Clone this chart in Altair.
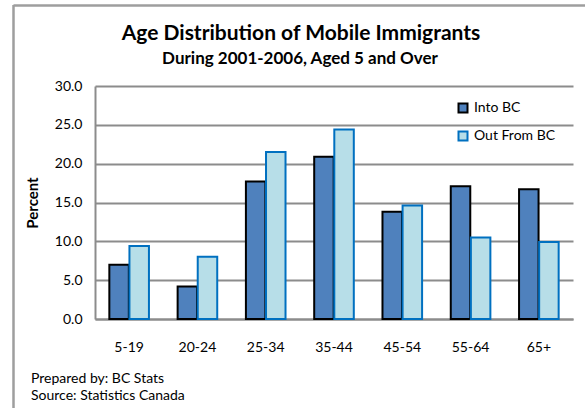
import altair as alt
import pandas as pd

ages = ["5-19", "20-24", "25-34", "35-44", "45-54", "55-64", "65+"]
into_bc = [7.0, 4.2, 17.7, 20.9, 13.8, 17.1, 16.7]
out_from_bc = [9.4, 8.0, 21.5, 24.4, 14.6, 10.5, 9.9]
series = ["Into BC", "Out From BC"]
y_ticks = [0, 5, 10, 15, 20, 25, 30]

title = "Age Distribution of Mobile Immigrants"
subtitle = "During 2001-2006, Aged 5 and Over"
y_title = "Percent"
footer1 = "Prepared by: BC Stats"
footer2 = "Source: Statistics Canada"

rows = []
for a, v1, v2 in zip(ages, into_bc, out_from_bc):
    rows.append({"age": a, "series": series[0], "value": v1})
    rows.append({"age": a, "series": series[1], "value": v2})
df = pd.DataFrame(rows)

FONT = "Lato"
GRID = "#8c8c8c"
FRAME = "#9e9e9e"

W, H = 478, 233
PL, PT = 95, 86

leg = alt.Legend(
    title=None, orient="none", legendX=361, legendY=15,
    symbolType="square", symbolSize=81, symbolStrokeWidth=2,
    labelFont=FONT, labelFontSize=14, labelColor="black",
    rowPadding=10, labelOffset=4, padding=0,
)

bars = alt.Chart(df).mark_bar(strokeWidth=2).encode(
    x=alt.X("age:N", sort=ages, title=None,
            scale=alt.Scale(paddingInner=0.42, paddingOuter=0.21),
            axis=alt.Axis(labelAngle=0, labelFont=FONT, labelFontSize=14,
                          labelColor="black", ticks=False, labelPadding=21,
                          domainColor=GRID, domainWidth=2, grid=False)),
    xOffset=alt.XOffset("series:N", sort=series,
                        scale=alt.Scale(paddingInner=0.03, paddingOuter=0)),
    y=alt.Y("value:Q", title=None,
            scale=alt.Scale(domain=[0, 30], nice=False),
            axis=alt.Axis(values=y_ticks, format=".1f", labelFont=FONT,
                          labelFontSize=14, labelColor="black", ticks=False,
                          labelPadding=13, domainColor=GRID, domainWidth=2,
                          gridColor=GRID, gridWidth=2, gridOpacity=1)),
    fill=alt.Fill("series:N", sort=series,
                  scale=alt.Scale(domain=series, range=["#4F81BD", "#B7DEE8"]),
                  legend=leg),
    stroke=alt.Stroke("series:N", sort=series,
                      scale=alt.Scale(domain=series, range=["#000000", "#0070C0"]),
                      legend=leg),
)

def text_layer(txt, x, y, size, bold=False, align="center", angle=0):
    kw = dict(font=FONT, fontSize=size, fontWeight="bold" if bold else "normal",
              align=align, baseline="alphabetic", color="black")
    if angle:
        kw["angle"] = angle
        kw["baseline"] = "middle"
    return alt.Chart(pd.DataFrame({"t": [txt]})).mark_text(**kw).encode(
        text="t:N", x=alt.value(x), y=alt.value(y))

frame_left = alt.Chart(pd.DataFrame({"a": [0]})).mark_rule(
    color=FRAME, strokeWidth=2.5).encode(
    x=alt.value(13.5 - PL), y=alt.value(5 - PT), y2=alt.value(408 - PT + 5))
frame_top = alt.Chart(pd.DataFrame({"a": [0]})).mark_rule(
    color=FRAME, strokeWidth=2.5).encode(
    x=alt.value(13.5 - PL), x2=alt.value(590 - PL), y=alt.value(5.5 - PT))

chart = alt.layer(
    frame_left, frame_top,
    bars,
    text_layer(title, 301 - PL, 40 - PT, 21, bold=True),
    text_layer(subtitle, 300 - PL, 64 - PT, 17, bold=True),
    text_layer(y_title, 33 - PL, 203 - PT, 15, bold=True, angle=270),
    text_layer(footer1, 31 - PL, 383 - PT, 14, align="left"),
    text_layer(footer2, 31 - PL, 400 - PT, 14, align="left"),
).properties(
    width=W, height=H,
    autosize=alt.AutoSizeParams(type="none"),
    padding={"left": PL, "top": PT, "right": 585 - PL - W, "bottom": 408 - PT - H},
    background="white",
).configure_view(stroke=None)

chart.save("out.html", embed_options={"renderer": "svg", "actions": False})
